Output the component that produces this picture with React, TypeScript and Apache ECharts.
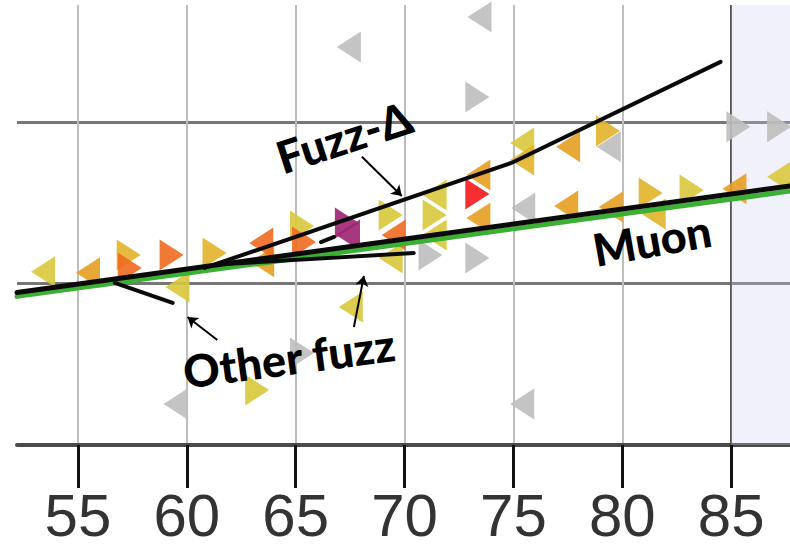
import React, { useEffect, useRef } from "react";
import * as echarts from "echarts";

// Axis layout values
const xTicks = [55, 60, 65, 70, 75, 80, 85];
const yGridValues = [5, 10];
const xMin = 52.2;
const xMax = 87.7;
const yMin = 0;
const yMax = 13.62;
const shadedFrom = 85;

// Tracks (x, y in plot units)
const muonTrack = [[52.2, 4.72], [87.7, 8.02]];
const muonTruth = [[52.2, 4.6], [87.7, 7.86]];
const fuzzDeltaTrack = [[60.81, 5.48], [74.9, 8.73], [84.51, 11.86]];
const otherFuzzA = [[56.69, 5.02], [59.35, 4.4]];
const otherFuzzB = [[61.72, 5.6], [70.42, 5.94]];
const otherFuzzC = [[66.16, 6.28], [66.76, 6.44]];

// Hits: triangles pointing left / right
const grayLeft = [[67.44, 12.32], [73.44, 13.25], [75.45, 7.34], [79.38, 9.23], [59.48, 1.27], [75.4, 1.27]];
const grayRight = [[73.34, 10.77], [85.33, 9.85], [87.2, 9.85], [71.19, 5.88], [73.34, 5.79], [65.29, 2.85]];
const yellowLeft = [[53.4, 5.36], [59.57, 4.89], [69.36, 5.79], [71.38, 7.74], [71.38, 6.5], [75.4, 9.35], [67.53, 4.27], [87.2, 8.3]];
const yellowRight = [[65.29, 6.78], [69.36, 7.12], [71.38, 7.12], [83.18, 7.89], [63.23, 1.7]];
const goldLeft = [[75.4, 8.82], [81.44, 7.15]];
const goldRight = [[57.33, 5.88], [79.34, 9.72], [81.3, 7.8], [61.27, 5.94]];
const amberLeft = [[55.46, 5.33], [63.46, 5.67], [73.39, 7.03], [77.51, 9.23], [77.42, 7.4], [79.47, 7.37], [85.15, 7.93], [73.39, 8.36]];
const orangeLeft = [[69.5, 6.5], [63.42, 6.25]];
const orangeRight = [[57.38, 5.48], [59.3, 5.88], [65.38, 6.28]];
const redRight = [[73.34, 7.77]];
const purpleLeft = [[67.4, 6.5]];
const purpleRight = [[67.35, 6.87]];

// Annotation arrows
const arrowFuzzDelta = [[68.04, 8.92], [69.87, 7.71]];
const arrowOtherFuzz1 = [[61.4, 3.25], [60.03, 3.96]];
const arrowOtherFuzz2 = [[67.67, 3.65], [68.13, 5.23]];

const hitGroups = [
  { data: grayLeft, color: "#bebebe", dir: "L" },
  { data: grayRight, color: "#bebebe", dir: "R" },
  { data: yellowLeft, color: "#d9c83c", dir: "L" },
  { data: yellowRight, color: "#d9c83c", dir: "R" },
  { data: goldLeft, color: "#e2b42a", dir: "L" },
  { data: goldRight, color: "#e2b42a", dir: "R" },
  { data: amberLeft, color: "#e59e22", dir: "L" },
  { data: orangeLeft, color: "#f06a20", dir: "L" },
  { data: orangeRight, color: "#f06a20", dir: "R" },
  { data: redRight, color: "#f41818", dir: "R" },
  { data: purpleLeft, color: "#9c2470", dir: "L" },
  { data: purpleRight, color: "#9c2470", dir: "R" },
];

export default function App() {
  const ref = useRef<HTMLDivElement>(null);
  useEffect(() => {
    if (!ref.current) return;
    const chart = echarts.init(ref.current, undefined, { renderer: "svg" });
    const lineSeries = (data: number[][], color: string, width: number, z: number) => ({
      type: "line",
      data,
      showSymbol: false,
      symbol: "none",
      lineStyle: { color, width, cap: "round" },
      z,
      silent: true,
    });
    const arrow = (coords: number[][]) => ({ coords });
    const series: any[] = [];
    hitGroups.forEach((g) => {
      series.push({
        type: "scatter",
        data: g.data,
        symbol: "triangle",
        symbolSize: [31, 24],
        symbolRotate: g.dir === "L" ? 90 : -90,
        itemStyle: { color: g.color, opacity: 0.9 },
        z: g.color === "#bebebe" ? 3 : 4,
        silent: true,
      });
    });
    series.push({
      ...lineSeries(muonTruth, "#3cb034", 5, 5),
      markArea: {
        silent: true,
        itemStyle: { color: "rgba(205,205,240,0.28)" },
        data: [[{ xAxis: shadedFrom }, { xAxis: xMax }]],
      },
    });
    series.push(lineSeries(muonTrack, "#0a0a0a", 5, 6));
    series.push(lineSeries(fuzzDeltaTrack, "#0a0a0a", 4, 6));
    series.push(lineSeries(otherFuzzA, "#0a0a0a", 4, 6));
    series.push(lineSeries(otherFuzzB, "#0a0a0a", 4, 6));
    series.push(lineSeries(otherFuzzC, "#0a0a0a", 4, 6));
    series.push({
      type: "lines",
      coordinateSystem: "cartesian2d",
      data: [arrow(arrowFuzzDelta), arrow(arrowOtherFuzz1), arrow(arrowOtherFuzz2)],
      symbol: ["none", "arrow"],
      symbolSize: 10,
      lineStyle: { color: "#000", width: 2, opacity: 1 },
      z: 7,
      silent: true,
    });

    const label = (text: string, x: number, y: number, deg: number) => ({
      type: "text",
      x,
      y,
      rotation: (deg * Math.PI) / 180,
      z: 100,
      style: {
        text,
        fontFamily: "Lato",
        fontWeight: 900,
        fontSize: 45,
        fill: "#000",
        align: "center",
        verticalAlign: "middle",
      },
    });

    chart.setOption({
      animation: false,
      backgroundColor: "#ffffff",
      grid: { left: 17, right: 0, top: 5, bottom: 111 },
      xAxis: {
        type: "value",
        min: xMin,
        max: xMax,
        axisLine: { show: true, onZero: false, lineStyle: { color: "#4a4a4a", width: 4 } },
        axisTick: { show: true, length: 43, customValues: xTicks, lineStyle: { color: "#111", width: 3 } },
        axisLabel: {
          customValues: xTicks,
          margin: 40,
          fontSize: 60,
          fontFamily: "Liberation Sans",
          color: "#333",
        },
        splitLine: {
          show: true,
          lineStyle: { color: ["#bdbdbd", "#bdbdbd", "#bdbdbd", "#bdbdbd", "#bdbdbd", "#bdbdbd", "#555"], width: 2 },
        },
      },
      yAxis: {
        type: "value",
        min: yMin,
        max: yMax,
        axisLine: { show: false },
        axisTick: { show: false, customValues: yGridValues },
        axisLabel: { show: false, customValues: yGridValues },
        splitLine: { show: true, lineStyle: { color: "#777", width: 3 } },
      },
      graphic: [
        label("Fuzz-\u0394", 344, 137, 18),
        label("Muon", 652, 240, 10),
        label("Other fuzz", 289, 358, 7.5),
      ],
      series,
    });
    return () => chart.dispose();
  }, []);
  return <div ref={ref} style={{ width: 790, height: 556, position: "absolute", left: 0, top: 0 }} />;
}
